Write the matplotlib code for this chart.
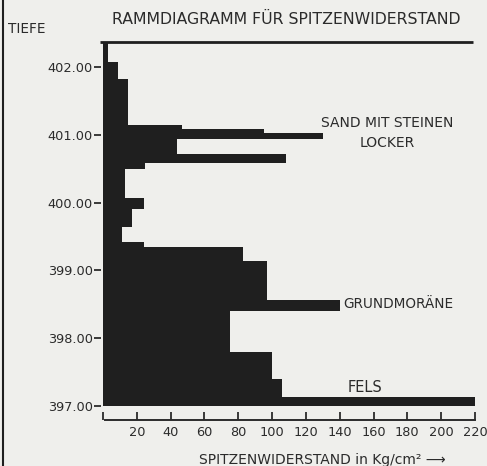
import matplotlib.pyplot as plt
from matplotlib.lines import Line2D

# depth boundaries (m above sea level) and tip resistance per layer (kg/cm2)
depth_edges = [402.37, 402.07, 401.82, 401.15, 401.09, 401.03, 400.94, 400.72,
               400.58, 400.50, 400.07, 399.91, 399.64, 399.42, 399.35, 399.14,
               398.56, 398.40, 397.80, 397.40, 397.13, 397.00]
resistance = [3, 9, 15, 47, 95, 130, 44, 108, 25, 13, 24, 17, 11, 24, 83, 97,
              140, 75, 100, 106, 220]
depth_ticks = [397, 398, 399, 400, 401, 402]
x_ticks = [0, 20, 40, 60, 80, 100, 120, 140, 160, 180, 200, 220]
ground_level = 402.37

W, H = 487, 466
bg = '#efefec'
ink = '#1f1f1f'
txt = '#2b2b2b'
plt.rcParams['font.family'] = ['DejaVu Sans']

fig = plt.figure(figsize=(W / 100, H / 100), dpi=100, facecolor=bg)

# axes placed so that 0 -> px 103, 220 -> px 475, 402 -> py 67, 397 -> py 406
px0, sx = 103, (475 - 103) / 220
py0, sy = 67, 67.8
left_px, right_px, top_px, bot_px = 90, 482, 35, 432
ax = fig.add_axes([left_px / W, 1 - bot_px / H, (right_px - left_px) / W,
                   (bot_px - top_px) / H])
ax.set_facecolor(bg)
ax.set_xlim((left_px - px0) / sx, (right_px - px0) / sx)
ax.set_ylim(402 - (bot_px - py0) / sy, 402 - (top_px - py0) / sy)

tops = depth_edges[:-1]
bottoms = depth_edges[1:]
heights = [t - b for t, b in zip(tops, bottoms)]
ax.barh(bottoms, resistance, height=heights, left=0, align='edge',
        color=ink, edgecolor='none')

# ground surface line
ax.plot([-2, 219], [ground_level, ground_level], color=ink, lw=2,
        solid_capstyle='butt')

# x axis drawn below the bars
axis_y = 402 - (420 - py0) / sy
ax.spines['bottom'].set_position(('data', axis_y))
ax.spines['bottom'].set_bounds(1, 220)
ax.spines['bottom'].set_linewidth(1.4)
ax.spines['bottom'].set_color(txt)
for s in ['top', 'right', 'left']:
    ax.spines[s].set_visible(False)
ax.set_xticks(x_ticks)
ax.set_xticklabels([''] + [str(v) for v in x_ticks[1:]])
ax.tick_params(axis='x', direction='in', length=6, width=1.3, colors=txt,
               labelsize=9.3, pad=4)

ax.spines['left'].set_position(('data', -1))
ax.set_yticks(depth_ticks)
ax.set_yticklabels([f'{d:.2f}' for d in depth_ticks])
ax.tick_params(axis='y', direction='out', length=5, width=1.3, colors=txt,
               labelsize=9.3, pad=1)

# layer descriptions
ax.text(168, 401.17, 'SAND MIT STEINEN', ha='center', va='center',
        fontsize=10, color=txt)
ax.text(168, 400.88, 'LOCKER', ha='center', va='center', fontsize=10,
        color=txt)
ax.text(142, 398.50, 'GRUNDMORÄNE', ha='left', va='center', fontsize=9.8,
        color=txt)
ax.text(155, 397.27, 'FELS', ha='center', va='center', fontsize=10.5,
        color=txt)

fig.text(286 / W, 1 - 19 / H, 'RAMMDIAGRAMM FÜR SPITZENWIDERSTAND',
         ha='center', va='center', fontsize=11.3, color=txt)
fig.text(8 / W, 1 - 29 / H, 'TIEFE', ha='left', va='center', fontsize=9.8,
         color=txt)
fig.text(322 / W, 1 - 460 / H, 'SPITZENWIDERSTAND in Kg/cm² ⟶',
         ha='center', va='center', fontsize=10, color=txt)

# page border on the left
fig.add_artist(Line2D([3 / W, 3 / W], [0, 1], color=ink, lw=1.5))

fig.savefig('out.png', dpi=100, facecolor=bg)
